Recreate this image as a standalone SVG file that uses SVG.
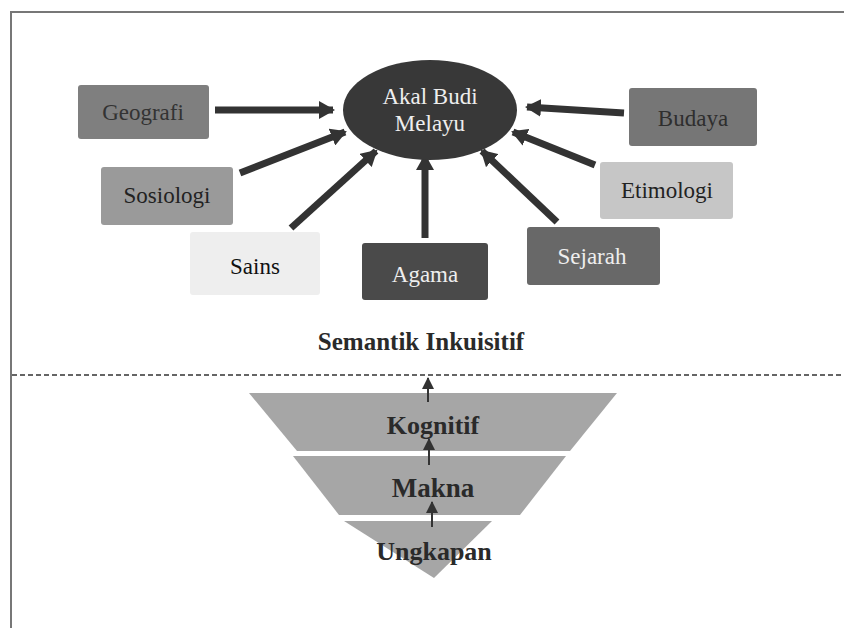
<svg xmlns="http://www.w3.org/2000/svg" width="844" height="628" viewBox="0 0 844 628">
<style>
.box{stroke:none}
.lbl{font-family:"Liberation Serif","Times New Roman",serif;font-size:23px;text-anchor:middle;dominant-baseline:central}
.bold{font-family:"Liberation Serif","Times New Roman",serif;font-weight:bold;text-anchor:middle;dominant-baseline:central;fill:#2a2a2a}
.conn{stroke:#333;stroke-width:7;fill:none}
.small{stroke:#333;stroke-width:2;fill:none}
</style>
<defs>
<marker id="ah" markerUnits="userSpaceOnUse" markerWidth="16" markerHeight="18" refX="14" refY="9" orient="auto">
<path d="M0,0 L16,9 L0,18 Z" fill="#333"/>
</marker>
<marker id="sh" markerUnits="userSpaceOnUse" markerWidth="12" markerHeight="12" refX="11" refY="6" orient="auto">
<path d="M0,0 L12,6 L0,12 Z" fill="#333"/>
</marker>
</defs>
<rect width="844" height="628" fill="#fff"/>
<path d="M11,628 L11,12 L844,12" fill="none" stroke="#777" stroke-width="2"/>

<g id="connectors">
<line class="conn" x1="215" y1="110" x2="333" y2="110" marker-end="url(#ah)"/>
<line class="conn" x1="240" y1="173" x2="345" y2="132" marker-end="url(#ah)"/>
<line class="conn" x1="291" y1="228" x2="376" y2="151" marker-end="url(#ah)"/>
<line class="conn" x1="425" y1="238" x2="425" y2="156" marker-end="url(#ah)"/>
<line class="conn" x1="557" y1="222" x2="482" y2="151" marker-end="url(#ah)"/>
<line class="conn" x1="595" y1="165" x2="513" y2="132" marker-end="url(#ah)"/>
<line class="conn" x1="624" y1="113" x2="527" y2="107" marker-end="url(#ah)"/>
</g>

<g id="akal">
<ellipse cx="430" cy="110" rx="87" ry="50" fill="#383838"/>
<text class="lbl" x="430" y="96" fill="#eee" font-size="22">Akal Budi</text>
<text class="lbl" x="430" y="123" fill="#eee" font-size="22">Melayu</text>
</g>
<g id="geografi">
<rect class="box" x="78" y="85" width="131" height="54" rx="3" fill="#7f7f7f"/>
<text class="lbl" x="143" y="112" fill="#333">Geografi</text>
</g>
<g id="budaya">
<rect class="box" x="629" y="88" width="128" height="58" rx="3" fill="#767676"/>
<text class="lbl" x="693" y="118" fill="#2e2e2e">Budaya</text>
</g>
<g id="sosiologi">
<rect class="box" x="101" y="167" width="132" height="58" rx="3" fill="#9a9a9a"/>
<text class="lbl" x="167" y="195" fill="#222">Sosiologi</text>
</g>
<g id="etimologi">
<rect class="box" x="600" y="162" width="133" height="57" rx="3" fill="#c6c6c6"/>
<text class="lbl" x="667" y="190" fill="#222">Etimologi</text>
</g>
<g id="sains">
<rect class="box" x="190" y="232" width="130" height="63" rx="3" fill="#eeeeee"/>
<text class="lbl" x="255" y="266" fill="#111">Sains</text>
</g>
<g id="agama">
<rect class="box" x="362" y="243" width="126" height="57" rx="3" fill="#4a4a4a"/>
<text class="lbl" x="425" y="274" fill="#eee">Agama</text>
</g>
<g id="sejarah">
<rect class="box" x="527" y="227" width="133" height="58" rx="3" fill="#686868"/>
<text class="lbl" x="592" y="256" fill="#eee">Sejarah</text>
</g>

<text class="bold" x="421" y="341" font-size="25">Semantik Inkuisitif</text>
<line x1="12" y1="375" x2="844" y2="375" stroke="#333" stroke-width="1.5" stroke-dasharray="5,3"/>

<g id="pyramid">
<polygon points="249,393 617,393 570,451 297,451" fill="#a6a6a6"/>
<polygon points="293,456 566,456 520,515 339,515" fill="#a6a6a6"/>
<polygon points="344,521 492,521 434,578" fill="#a6a6a6"/>
</g>
<g id="kognitif"><text class="bold" x="433" y="425" font-size="26">Kognitif</text></g>
<g id="makna"><text class="bold" x="433" y="488" font-size="27">Makna</text></g>
<g id="ungkapan"><text class="bold" x="434" y="551" font-size="26">Ungkapan</text></g>
<g id="small-arrows">
<line class="small" x1="428" y1="402" x2="428" y2="378" marker-end="url(#sh)"/>
<line class="small" x1="429" y1="465" x2="429" y2="439" marker-end="url(#sh)"/>
<line class="small" x1="432" y1="527" x2="432" y2="502" marker-end="url(#sh)"/>
</g>
</svg>
